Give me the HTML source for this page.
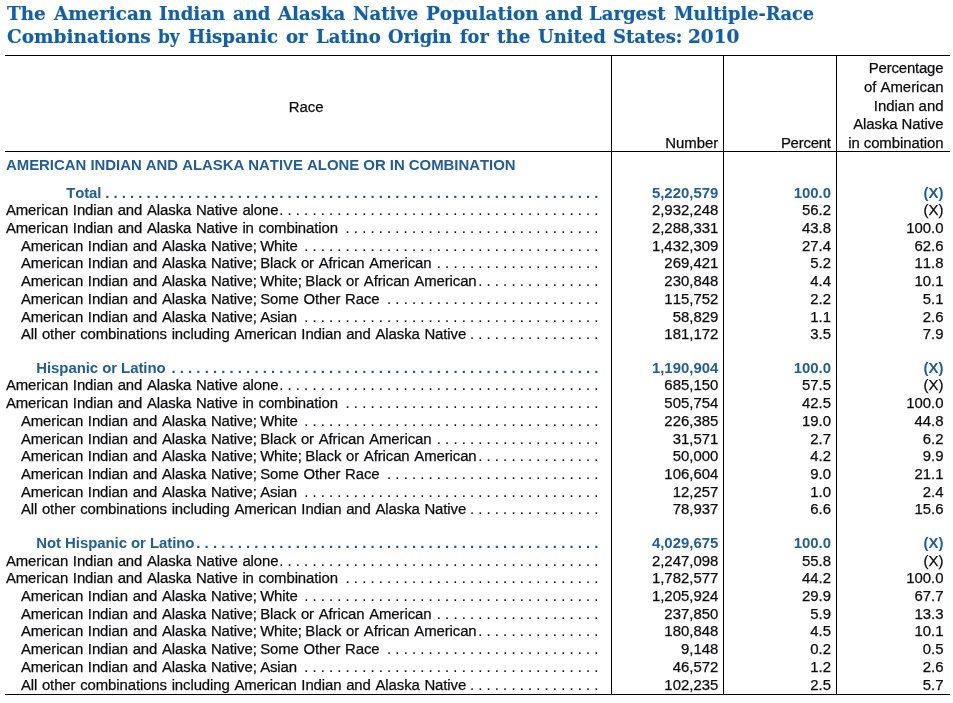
<!DOCTYPE html>
<html lang="en"><head><meta charset="utf-8"><title>The American Indian and Alaska Native Population</title>
<style>
html,body{margin:0;padding:0;background:#fff}
body{width:953px;height:703px;position:relative;overflow:hidden;font-family:"Liberation Sans",Arial,Helvetica,sans-serif;font-size:14.93px;color:#0c0c10;font-kerning:none;-webkit-text-stroke:0.25px #0c0c10;}
h1{margin:0;padding:0;font:inherit}
.t span{position:absolute;top:0;transform-origin:0 0;display:block}
.t{display:block;-webkit-text-stroke:0.2px #125fa9;position:absolute;left:0;width:953px;height:24px;white-space:nowrap;font-family:"DejaVu Serif","Liberation Serif",serif;font-weight:bold;font-size:19.3px;line-height:24px;color:#125fa9;transform-origin:0 0}
.hl{position:absolute;background:#000;height:1px}
.vl{position:absolute;background:#000;width:1px}
.h{position:absolute;white-space:nowrap;line-height:17.571px}
.r{position:absolute;left:0;width:953px;height:17.571px;line-height:17.571px;white-space:nowrap}
.r span{position:absolute;top:0}
.r .l{letter-spacing:-0.1px;word-spacing:0.7px}
.r .l .k{position:static;margin-left:-1.3px}
.b{color:#225d99;font-weight:bold;-webkit-text-stroke:0}
.r.b .l{letter-spacing:-0.05px;word-spacing:0}
.r .d{-webkit-text-stroke:0.1px #0c0c10}
.r.b .d{color:#23568d;-webkit-text-stroke:0}
.b .v{font-weight:bold}
.sec{-webkit-text-stroke:0;letter-spacing:-0.02px;position:absolute;left:6px;white-space:nowrap;font-weight:bold;color:#225d99;line-height:17.571px}
</style></head><body>
<h1><span class="t" style="top:2px"><span style="left:7.26px;transform:scaleX(0.9544)">The</span> <span style="left:54.24px;transform:scaleX(0.9492)">American</span> <span style="left:159.46px;transform:scaleX(0.9391)">Indian</span> <span style="left:232.80px;transform:scaleX(0.9368)">and</span> <span style="left:278.34px;transform:scaleX(0.9404)">Alaska</span> <span style="left:353.30px;transform:scaleX(0.9348)">Native</span> <span style="left:425.54px;transform:scaleX(0.9564)">Population</span> <span style="left:544.70px;transform:scaleX(0.9394)">and</span> <span style="left:589.26px;transform:scaleX(0.9379)">Largest</span> <span style="left:674.11px;transform:scaleX(0.9177)">Multiple-Race</span></span>
<span class="t" style="top:25px"><span style="left:6.78px;transform:scaleX(0.9592)">Combinations</span> <span style="left:158.06px;transform:scaleX(0.8768)">by</span> <span style="left:188.26px;transform:scaleX(0.9433)">Hispanic</span> <span style="left:285.69px;transform:scaleX(0.9422)">or</span> <span style="left:315.56px;transform:scaleX(0.9363)">Latino</span> <span style="left:388.01px;transform:scaleX(0.9235)">Origin</span> <span style="left:459.84px;transform:scaleX(0.9161)">for</span> <span style="left:497.13px;transform:scaleX(0.9452)">the</span> <span style="left:537.90px;transform:scaleX(0.9315)">United</span> <span style="left:613.03px;transform:scaleX(0.9329)">States:</span> <span style="left:688.10px;transform:scaleX(0.9573)">2010</span></span></h1>
<div role="table" aria-label="American Indian and Alaska Native population by Hispanic or Latino origin, 2010">
<div class="hl" style="left:5px;top:55px;width:945px"></div>
<div class="hl" style="left:5px;top:151px;width:945px"></div>
<div class="hl" style="left:5px;top:694px;width:945px"></div>
<div class="vl" style="left:611px;top:55px;height:640px"></div>
<div class="vl" style="left:723px;top:55px;height:640px"></div>
<div class="vl" style="left:836px;top:55px;height:640px"></div>
<div role="row">
<div role="columnheader" class="h" style="left:0.6px;width:611px;text-align:center;top:98.04px">Race</div>
<div role="columnheader" class="h" style="right:234.7px;top:134.04px">Number</div>
<div role="columnheader" class="h" style="right:122.22px;top:134.04px;letter-spacing:-0.22px">Percent</div>
<div role="columnheader">
<span class="h" style="right:9.68px;top:59.04px;letter-spacing:-0.18px">Percentage</span>
<span class="h" style="right:9.5px;top:78.04px">of American</span>
<span class="h" style="right:9.5px;top:96.64px">Indian and</span>
<span class="h" style="right:9.58px;top:115.04px;letter-spacing:-0.08px">Alaska Native</span>
<span class="h" style="right:9.57px;top:134.04px;letter-spacing:-0.07px">in combination</span>
</div>
</div>
<div role="row" class="sec" style="top:156.04px">AMERICAN INDIAN AND ALASKA NATIVE ALONE OR IN COMBINATION</div>
<div role="row" class="r b" style="top:184.04px"><span role="rowheader" class="l" style="left:66.3px;letter-spacing:-0.15px">Total</span><span aria-hidden="true" class="d" style="right:354.52px">. . . . . . . . . . . . . . . . . . . . . . . . . . . . . . . . . . . . . . . . . . . . . . . . . . . . . . . . . . . .</span><span role="cell" class="v" style="right:234.7px">5,220,579</span><span role="cell" class="v" style="right:122.0px">100.0</span><span role="cell" class="v" style="right:9.5px">(X)</span></div>
<div role="row" class="r" style="top:201.04px"><span role="rowheader" class="l" style="left:5.9px">American Indian and Alaska Native alone</span><span aria-hidden="true" class="d" style="right:354.52px">. . . . . . . . . . . . . . . . . . . . . . . . . . . . . . . . . . . . . . .</span><span role="cell" class="v" style="right:234.7px">2,932,248</span><span role="cell" class="v" style="right:122.0px">56.2</span><span role="cell" class="v" style="right:9.5px">(X)</span></div>
<div role="row" class="r" style="top:219.04px"><span role="rowheader" class="l" style="left:5.9px">American Indian and Alaska Native in combination</span><span aria-hidden="true" class="d" style="right:354.52px">. . . . . . . . . . . . . . . . . . . . . . . . . . . . . . .</span><span role="cell" class="v" style="right:234.7px">2,288,331</span><span role="cell" class="v" style="right:122.0px">43.8</span><span role="cell" class="v" style="right:9.5px">100.0</span></div>
<div role="row" class="r" style="top:237.04px"><span role="rowheader" class="l" style="left:20.9px">American Indian and Alaska Native; <span class="k">White</span></span><span aria-hidden="true" class="d" style="right:354.52px">. . . . . . . . . . . . . . . . . . . . . . . . . . . . . . . . . . . .</span><span role="cell" class="v" style="right:234.7px">1,432,309</span><span role="cell" class="v" style="right:122.0px">27.4</span><span role="cell" class="v" style="right:9.5px">62.6</span></div>
<div role="row" class="r" style="top:254.04px"><span role="rowheader" class="l" style="left:20.9px">American Indian and Alaska Native; <span class="k">Black or African American</span></span><span aria-hidden="true" class="d" style="right:354.52px">. . . . . . . . . . . . . . . . . . . .</span><span role="cell" class="v" style="right:234.7px">269,421</span><span role="cell" class="v" style="right:122.0px">5.2</span><span role="cell" class="v" style="right:9.5px">11.8</span></div>
<div role="row" class="r" style="top:272.04px"><span role="rowheader" class="l" style="left:20.9px">American Indian and Alaska Native; <span class="k">White; <span class="k">Black or African American</span></span></span><span aria-hidden="true" class="d" style="right:354.52px">. . . . . . . . . . . . . . .</span><span role="cell" class="v" style="right:234.7px">230,848</span><span role="cell" class="v" style="right:122.0px">4.4</span><span role="cell" class="v" style="right:9.5px">10.1</span></div>
<div role="row" class="r" style="top:290.04px"><span role="rowheader" class="l" style="left:20.9px">American Indian and Alaska Native; <span class="k">Some Other Race</span></span><span aria-hidden="true" class="d" style="right:354.52px">. . . . . . . . . . . . . . . . . . . . . . . . . .</span><span role="cell" class="v" style="right:234.7px">115,752</span><span role="cell" class="v" style="right:122.0px">2.2</span><span role="cell" class="v" style="right:9.5px">5.1</span></div>
<div role="row" class="r" style="top:308.04px"><span role="rowheader" class="l" style="left:20.9px">American Indian and Alaska Native; <span class="k">Asian</span></span><span aria-hidden="true" class="d" style="right:354.52px">. . . . . . . . . . . . . . . . . . . . . . . . . . . . . . . . . . . .</span><span role="cell" class="v" style="right:234.7px">58,829</span><span role="cell" class="v" style="right:122.0px">1.1</span><span role="cell" class="v" style="right:9.5px">2.6</span></div>
<div role="row" class="r" style="top:325.04px"><span role="rowheader" class="l" style="left:20.9px">All other combinations including American Indian and Alaska Native</span><span aria-hidden="true" class="d" style="right:354.52px">. . . . . . . . . . . . . . . .</span><span role="cell" class="v" style="right:234.7px">181,172</span><span role="cell" class="v" style="right:122.0px">3.5</span><span role="cell" class="v" style="right:9.5px">7.9</span></div>
<div role="row" class="r b" style="top:359.04px"><span role="rowheader" class="l" style="left:36.3px">Hispanic or Latino</span><span aria-hidden="true" class="d" style="right:354.52px">. . . . . . . . . . . . . . . . . . . . . . . . . . . . . . . . . . . . . . . . . . . . . . . . . . . .</span><span role="cell" class="v" style="right:234.7px">1,190,904</span><span role="cell" class="v" style="right:122.0px">100.0</span><span role="cell" class="v" style="right:9.5px">(X)</span></div>
<div role="row" class="r" style="top:376.04px"><span role="rowheader" class="l" style="left:5.9px">American Indian and Alaska Native alone</span><span aria-hidden="true" class="d" style="right:354.52px">. . . . . . . . . . . . . . . . . . . . . . . . . . . . . . . . . . . . . . .</span><span role="cell" class="v" style="right:234.7px">685,150</span><span role="cell" class="v" style="right:122.0px">57.5</span><span role="cell" class="v" style="right:9.5px">(X)</span></div>
<div role="row" class="r" style="top:394.04px"><span role="rowheader" class="l" style="left:5.9px">American Indian and Alaska Native in combination</span><span aria-hidden="true" class="d" style="right:354.52px">. . . . . . . . . . . . . . . . . . . . . . . . . . . . . . .</span><span role="cell" class="v" style="right:234.7px">505,754</span><span role="cell" class="v" style="right:122.0px">42.5</span><span role="cell" class="v" style="right:9.5px">100.0</span></div>
<div role="row" class="r" style="top:412.04px"><span role="rowheader" class="l" style="left:20.9px">American Indian and Alaska Native; <span class="k">White</span></span><span aria-hidden="true" class="d" style="right:354.52px">. . . . . . . . . . . . . . . . . . . . . . . . . . . . . . . . . . . .</span><span role="cell" class="v" style="right:234.7px">226,385</span><span role="cell" class="v" style="right:122.0px">19.0</span><span role="cell" class="v" style="right:9.5px">44.8</span></div>
<div role="row" class="r" style="top:430.04px"><span role="rowheader" class="l" style="left:20.9px">American Indian and Alaska Native; <span class="k">Black or African American</span></span><span aria-hidden="true" class="d" style="right:354.52px">. . . . . . . . . . . . . . . . . . . .</span><span role="cell" class="v" style="right:234.7px">31,571</span><span role="cell" class="v" style="right:122.0px">2.7</span><span role="cell" class="v" style="right:9.5px">6.2</span></div>
<div role="row" class="r" style="top:447.04px"><span role="rowheader" class="l" style="left:20.9px">American Indian and Alaska Native; <span class="k">White; <span class="k">Black or African American</span></span></span><span aria-hidden="true" class="d" style="right:354.52px">. . . . . . . . . . . . . . .</span><span role="cell" class="v" style="right:234.7px">50,000</span><span role="cell" class="v" style="right:122.0px">4.2</span><span role="cell" class="v" style="right:9.5px">9.9</span></div>
<div role="row" class="r" style="top:465.04px"><span role="rowheader" class="l" style="left:20.9px">American Indian and Alaska Native; <span class="k">Some Other Race</span></span><span aria-hidden="true" class="d" style="right:354.52px">. . . . . . . . . . . . . . . . . . . . . . . . . .</span><span role="cell" class="v" style="right:234.7px">106,604</span><span role="cell" class="v" style="right:122.0px">9.0</span><span role="cell" class="v" style="right:9.5px">21.1</span></div>
<div role="row" class="r" style="top:483.04px"><span role="rowheader" class="l" style="left:20.9px">American Indian and Alaska Native; <span class="k">Asian</span></span><span aria-hidden="true" class="d" style="right:354.52px">. . . . . . . . . . . . . . . . . . . . . . . . . . . . . . . . . . . .</span><span role="cell" class="v" style="right:234.7px">12,257</span><span role="cell" class="v" style="right:122.0px">1.0</span><span role="cell" class="v" style="right:9.5px">2.4</span></div>
<div role="row" class="r" style="top:500.04px"><span role="rowheader" class="l" style="left:20.9px">All other combinations including American Indian and Alaska Native</span><span aria-hidden="true" class="d" style="right:354.52px">. . . . . . . . . . . . . . . .</span><span role="cell" class="v" style="right:234.7px">78,937</span><span role="cell" class="v" style="right:122.0px">6.6</span><span role="cell" class="v" style="right:9.5px">15.6</span></div>
<div role="row" class="r b" style="top:534.04px"><span role="rowheader" class="l" style="left:36.3px">Not Hispanic or Latino</span><span aria-hidden="true" class="d" style="right:354.52px">. . . . . . . . . . . . . . . . . . . . . . . . . . . . . . . . . . . . . . . . . . . . . . . . .</span><span role="cell" class="v" style="right:234.7px">4,029,675</span><span role="cell" class="v" style="right:122.0px">100.0</span><span role="cell" class="v" style="right:9.5px">(X)</span></div>
<div role="row" class="r" style="top:552.04px"><span role="rowheader" class="l" style="left:5.9px">American Indian and Alaska Native alone</span><span aria-hidden="true" class="d" style="right:354.52px">. . . . . . . . . . . . . . . . . . . . . . . . . . . . . . . . . . . . . . .</span><span role="cell" class="v" style="right:234.7px">2,247,098</span><span role="cell" class="v" style="right:122.0px">55.8</span><span role="cell" class="v" style="right:9.5px">(X)</span></div>
<div role="row" class="r" style="top:569.04px"><span role="rowheader" class="l" style="left:5.9px">American Indian and Alaska Native in combination</span><span aria-hidden="true" class="d" style="right:354.52px">. . . . . . . . . . . . . . . . . . . . . . . . . . . . . . .</span><span role="cell" class="v" style="right:234.7px">1,782,577</span><span role="cell" class="v" style="right:122.0px">44.2</span><span role="cell" class="v" style="right:9.5px">100.0</span></div>
<div role="row" class="r" style="top:587.04px"><span role="rowheader" class="l" style="left:20.9px">American Indian and Alaska Native; <span class="k">White</span></span><span aria-hidden="true" class="d" style="right:354.52px">. . . . . . . . . . . . . . . . . . . . . . . . . . . . . . . . . . . .</span><span role="cell" class="v" style="right:234.7px">1,205,924</span><span role="cell" class="v" style="right:122.0px">29.9</span><span role="cell" class="v" style="right:9.5px">67.7</span></div>
<div role="row" class="r" style="top:605.04px"><span role="rowheader" class="l" style="left:20.9px">American Indian and Alaska Native; <span class="k">Black or African American</span></span><span aria-hidden="true" class="d" style="right:354.52px">. . . . . . . . . . . . . . . . . . . .</span><span role="cell" class="v" style="right:234.7px">237,850</span><span role="cell" class="v" style="right:122.0px">5.9</span><span role="cell" class="v" style="right:9.5px">13.3</span></div>
<div role="row" class="r" style="top:622.04px"><span role="rowheader" class="l" style="left:20.9px">American Indian and Alaska Native; <span class="k">White; <span class="k">Black or African American</span></span></span><span aria-hidden="true" class="d" style="right:354.52px">. . . . . . . . . . . . . . .</span><span role="cell" class="v" style="right:234.7px">180,848</span><span role="cell" class="v" style="right:122.0px">4.5</span><span role="cell" class="v" style="right:9.5px">10.1</span></div>
<div role="row" class="r" style="top:640.04px"><span role="rowheader" class="l" style="left:20.9px">American Indian and Alaska Native; <span class="k">Some Other Race</span></span><span aria-hidden="true" class="d" style="right:354.52px">. . . . . . . . . . . . . . . . . . . . . . . . . .</span><span role="cell" class="v" style="right:234.7px">9,148</span><span role="cell" class="v" style="right:122.0px">0.2</span><span role="cell" class="v" style="right:9.5px">0.5</span></div>
<div role="row" class="r" style="top:658.04px"><span role="rowheader" class="l" style="left:20.9px">American Indian and Alaska Native; <span class="k">Asian</span></span><span aria-hidden="true" class="d" style="right:354.52px">. . . . . . . . . . . . . . . . . . . . . . . . . . . . . . . . . . . .</span><span role="cell" class="v" style="right:234.7px">46,572</span><span role="cell" class="v" style="right:122.0px">1.2</span><span role="cell" class="v" style="right:9.5px">2.6</span></div>
<div role="row" class="r" style="top:676.04px"><span role="rowheader" class="l" style="left:20.9px">All other combinations including American Indian and Alaska Native</span><span aria-hidden="true" class="d" style="right:354.52px">. . . . . . . . . . . . . . . .</span><span role="cell" class="v" style="right:234.7px">102,235</span><span role="cell" class="v" style="right:122.0px">2.5</span><span role="cell" class="v" style="right:9.5px">5.7</span></div>
</div>
</body></html>
